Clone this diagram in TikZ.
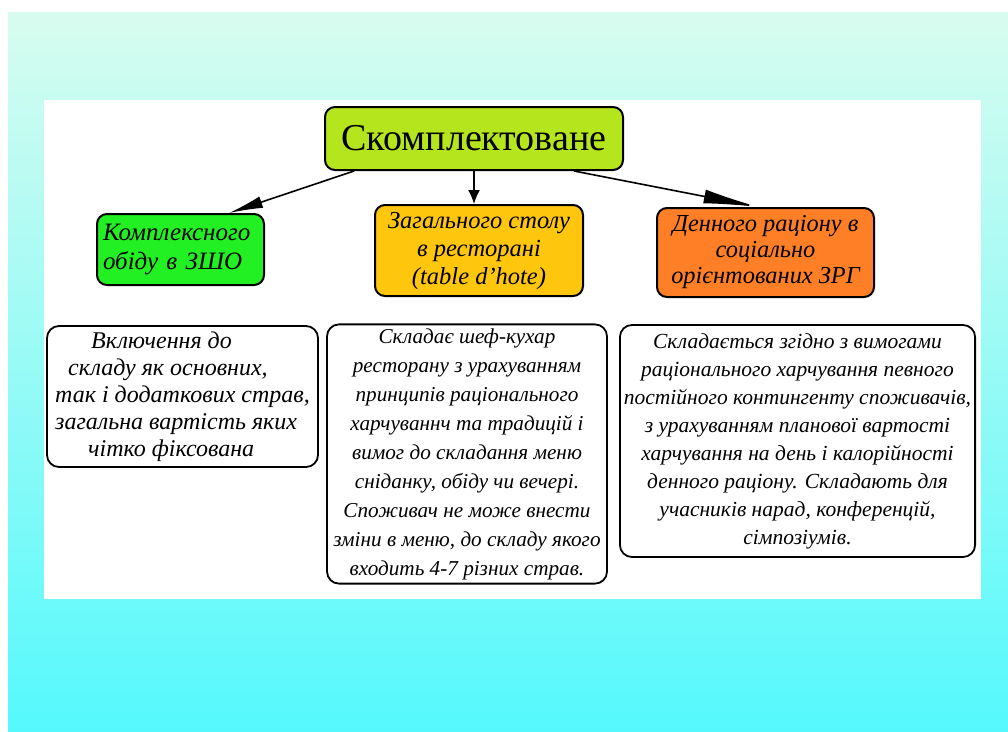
\documentclass[tikz,border=0pt]{standalone}
\usepackage{fontspec}
\setmainfont{Liberation Serif}
\usepackage{tikz}
\usetikzlibrary{arrows.meta,positioning,calc}

\definecolor{mintbg}{HTML}{D8FCEF}
\definecolor{cyanbg}{HTML}{55F9FD}
\definecolor{limebox}{HTML}{B5E61D}
\definecolor{greenbox}{HTML}{22F022}
\definecolor{goldbox}{HTML}{FFC60E}
\definecolor{orangebox}{HTML}{FF7F27}

\tikzset{
  kindbox/.style={draw=black, line width=2pt, rounded corners=10pt, inner sep=4pt},
  notebox/.style={draw=black, line width=1.8pt, rounded corners=12pt, fill=white, inner sep=4pt},
  bigarrow/.style={line width=1.6pt, -{Latex[length=34pt,width=12pt]}},
}

\begin{document}
\begin{tikzpicture}[x=1pt,y=-1pt]
% Background with panel
\useasboundingbox (0,0) rectangle (1008,731);
\fill[white] (0,0) rectangle (1008,731);
\shade[top color=mintbg,bottom color=cyanbg] (8,12) rectangle (1008,731);
\fill[white] (44,100) rectangle (981,599);

% Top node
\node[kindbox,fill=limebox,minimum width=298pt,minimum height=63pt,
      font=\fontsize{38}{40}\selectfont] (top) at (474,138.5) {Скомплектоване};

% Kinds
\node[kindbox,fill=greenbox,text width=155pt,inner xsep=6pt,minimum height=71pt,align=left,
      font=\itshape\fontsize{25}{29}\selectfont] (green) at (180.5,249.5) {Комплексного\\обіду в ЗШО};
\node[kindbox,fill=goldbox,minimum width=208pt,minimum height=91pt,align=center,
      font=\itshape\fontsize{24.5}{28}\selectfont] (yellow) at (479,250.5) {Загального столу\\в ресторані\\(table d'hote)};
\node[kindbox,fill=orangebox,minimum width=217pt,minimum height=89pt,align=center,
      font=\itshape\fontsize{24.4}{26}\selectfont] (orange) at (765.5,252.5) {Денного раціону в\\соціально\\орієнтованих ЗРГ};

% Notes under the kinds
\node[notebox,minimum width=271pt,minimum height=141pt,align=left,
      font=\itshape\fontsize{24}{27}\selectfont] (note1) at (182.5,396.5)
  {\hspace*{36pt}Включення до\\\hspace*{13pt}складу як основних,\\так і додаткових страв,\\загальна вартість яких\\\hspace*{33pt}чітко фіксована};
\node[notebox,minimum width=280pt,minimum height=258pt,align=center,
      font=\itshape\fontsize{21.2}{29}\selectfont] (note2) at (467,454)
  {Складає шеф-кухар\\ресторану з урахуванням\\принципів раціонального\\харчуваннч та традицій і\\вимог до складання меню\\сніданку, обіду чи вечері.\\Споживач не може внести\\зміни в меню, до складу якого\\входить 4-7 різних страв.};
\node[notebox,minimum width=355pt,minimum height=232pt,align=center,
      font=\itshape\fontsize{21.5}{28}\selectfont] (note3) at (797.5,441)
  {Складається згідно з вимогами\\раціонального харчування певного\\постійного контингенту споживачів,\\з урахуванням планової вартості\\харчування на день і калорійності\\денного раціону. Складають для\\учасників нарад, конференцій,\\сімпозіумів.};

% Arrows
\draw[bigarrow] ([xshift=30pt]top.south west) -- ([xshift=-36pt]green.north east);
\draw[line width=1.6pt,-{Latex[length=14pt,width=12pt]}] (top.south) -- (top.south |- yellow.north);
\draw[line width=1.6pt,-{Latex[length=55pt,width=14pt]}] ([xshift=-50pt]top.south east) -- ([xshift=-7pt]orange.north);
\end{tikzpicture}
\end{document}
